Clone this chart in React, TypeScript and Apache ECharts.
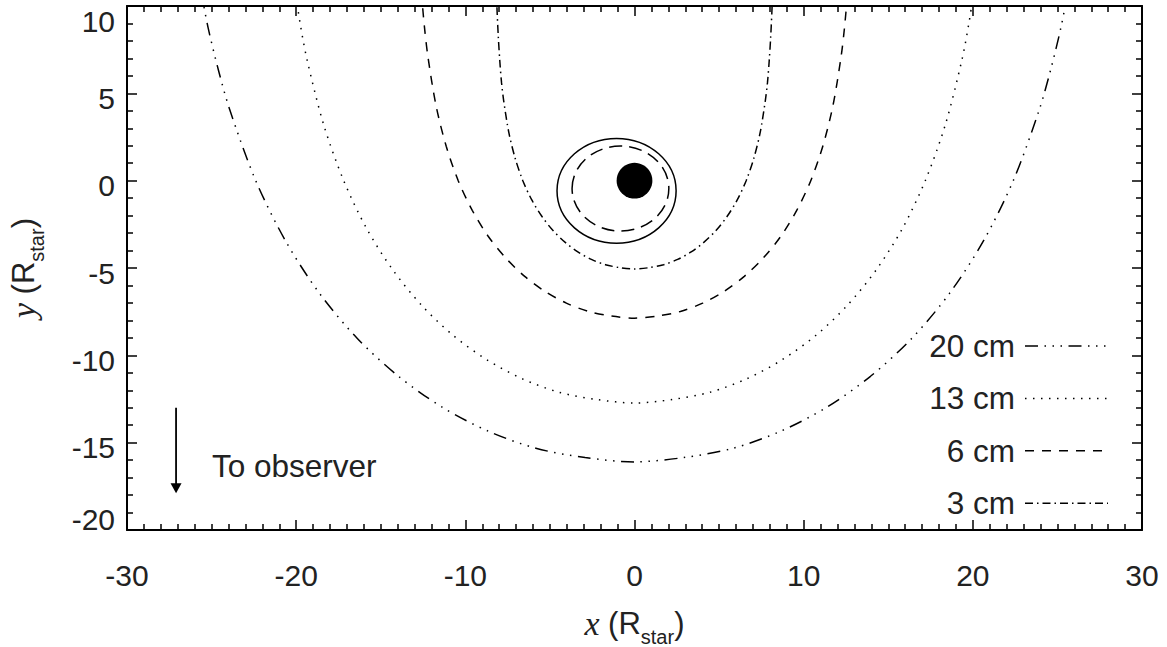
import React, { useEffect, useRef } from "react";
import * as echarts from "echarts";

const SANS = "'Liberation Sans', Arial, Helvetica, sans-serif";
const SERIF = "'Liberation Serif', 'Times New Roman', serif";
const INK = "#000";
const TEXT = "#222";

// axis ranges and tick steps
const xRange = [-30, 30];
const yRange = [-20, 10];
const xTickStep = 10;
const yTickStep = 5;

// tau = 1 surfaces (x, y in R_star)
const curve20cm: number[][] = [
  [-25.75, 11.49], [-25.21, 8.78], [-24.59, 6.31], [-23.92, 4.04], [-22.39, 0], [-20.61, -3.48],
  [-18.6, -6.48], [-16.37, -9.05], [-13.95, -11.2], [-11.37, -12.97], [-8.65, -14.34],
  [-5.83, -15.32], [-2.92, -15.85], [0, -16.1], [2.92, -15.85], [5.83, -15.32], [8.65, -14.34],
  [11.37, -12.97], [13.95, -11.2], [16.37, -9.05], [18.6, -6.48], [20.61, -3.48], [22.39, 0],
  [23.92, 4.04], [24.59, 6.31], [25.21, 8.78], [25.75, 11.49],
];
const curve13cm: number[][] = [
  [-20.15, 11.46], [-19.78, 9.09], [-19.36, 6.94], [-18.37, 3.19], [-17.19, 0], [-15.83, -2.75],
  [-14.28, -5.12], [-12.57, -7.15], [-10.72, -8.86], [-8.73, -10.25], [-6.64, -11.34],
  [-4.47, -12.11], [-2.24, -12.53], [0, -12.73], [2.24, -12.53], [4.47, -12.11], [6.64, -11.34],
  [8.73, -10.25], [10.72, -8.86], [12.57, -7.15], [14.28, -5.12], [15.83, -2.75], [17.19, 0],
  [18.37, 3.19], [19.36, 6.94], [19.78, 9.09], [20.15, 11.46],
];
const curve6cm: number[][] = [
  [-12.72, 12.78], [-12.58, 10.61], [-12.41, 8.73], [-12.21, 7.09], [-11.73, 4.29], [-11.13, 1.97],
  [-10.42, 0], [-9.59, -1.7], [-8.66, -3.17], [-7.62, -4.42], [-6.49, -5.48], [-5.29, -6.34],
  [-4.03, -7.01], [-2.71, -7.49], [-1.36, -7.75], [0, -7.87], [1.36, -7.75], [2.71, -7.49],
  [4.03, -7.01], [5.29, -6.34], [6.49, -5.48], [7.62, -4.42], [8.66, -3.17], [9.59, -1.7],
  [10.42, 0], [11.13, 1.97], [11.73, 4.29], [12.21, 7.09], [12.41, 8.73], [12.58, 10.61], [12.72, 12.78],
];
const curve3cm: number[][] = [
  [-8.19, 11.93], [-8.13, 9.89], [-8.05, 8.22], [-7.96, 6.82], [-7.86, 5.61], [-7.73, 4.56],
  [-7.43, 2.76], [-7.05, 1.27], [-6.6, 0], [-6.08, -1.09], [-5.48, -2.04], [-4.83, -2.84],
  [-4.11, -3.52], [-3.35, -4.08], [-2.55, -4.51], [-1.72, -4.81], [-0.86, -4.98], [0, -5.06],
  [0.86, -4.98], [1.72, -4.81], [2.55, -4.51], [3.35, -4.08], [4.11, -3.52], [4.83, -2.84],
  [5.48, -2.04], [6.08, -1.09], [6.6, 0], [7.05, 1.27], [7.43, 2.76], [7.73, 4.56], [7.86, 5.61],
  [7.96, 6.82], [8.05, 8.22], [8.13, 9.89], [8.19, 11.93],
];

const curveNames = ["20 cm", "13 cm", "6 cm", "3 cm"];
const curveData = [curve20cm, curve13cm, curve6cm, curve3cm];
const curveDashes: number[][] = [
  [13, 6.5, 1.5, 6.5, 1.5, 6.5, 1.5, 6.5],
  [1.5, 6.5],
  [9, 8],
  [8, 4, 1.5, 4],
];

// shells and star: [cx, cy, rx, ry] in R_star
const outerShell = [[-1.06, -0.58, 3.52, 3.0]];
const innerShell = [[-0.83, -0.45, 2.86, 2.43]];
const starDisk = [[0, 0, 1.04]];
// arrow: [x, yStart, yEnd]
const observerArrow = [[-27.1, -13.0, -17.9]];
const observerLabel = "To observer";

export default function App() {
  const ref = useRef<HTMLDivElement>(null);
  useEffect(() => {
    if (!ref.current) return;
    const chart = echarts.init(ref.current, undefined, { renderer: "svg" });

    const tickLine = { color: INK, width: 1.5 };
    const axisLine = { show: true, onZero: false, lineStyle: { color: INK, width: 2 } };

    const xBase = {
      type: "value",
      min: xRange[0],
      max: xRange[1],
      interval: xTickStep,
      axisLine,
      axisTick: { show: true, inside: true, length: 10, lineStyle: tickLine },
      minorTick: { show: true, splitNumber: 10, length: 6, lineStyle: tickLine },
      splitLine: { show: false },
      minorSplitLine: { show: false },
    };
    const yBase = {
      type: "value",
      min: yRange[0],
      max: yRange[1],
      interval: yTickStep,
      axisLine,
      axisTick: { show: true, inside: true, length: 10, lineStyle: tickLine },
      minorTick: { show: true, splitNumber: 5, length: 6, lineStyle: tickLine },
      splitLine: { show: false },
      minorSplitLine: { show: false },
    };

    const lab = { fontSize: 30, fontFamily: SANS, color: TEXT };
    const titleRich = {
      i: { fontFamily: SERIF, fontStyle: "italic", fontSize: 34, lineHeight: 48, color: TEXT },
      r: { fontFamily: SANS, fontSize: 31, lineHeight: 48, color: TEXT },
      s: { fontFamily: SANS, fontSize: 20, lineHeight: 20, verticalAlign: "bottom", color: TEXT },
    };

    const legendRight = 1015;
    const lineX1 = 1025;
    const lineX2 = 1108;
    const rowY0 = 346;
    const rowGap = 52.4;
    const legendEls: any[] = [];
    curveNames.forEach((n, i) => {
      const y = rowY0 + i * rowGap;
      legendEls.push({
        type: "text",
        x: legendRight,
        y,
        style: {
          text: n, fontSize: 31.5, fontFamily: SANS, fill: TEXT,
          align: "right", verticalAlign: "middle", textAlign: "right", textVerticalAlign: "middle",
        },
      });
      legendEls.push({
        type: "line",
        shape: { x1: lineX1, y1: y, x2: lineX2, y2: y },
        style: { stroke: INK, lineWidth: 1.5, lineDash: curveDashes[i] },
      });
    });
    legendEls.push({
      type: "text",
      x: 212,
      y: 466,
      style: {
        text: observerLabel, fontSize: 31.5, fontFamily: SANS, fill: TEXT,
        align: "left", verticalAlign: "middle", textAlign: "left", textVerticalAlign: "middle",
      },
    });

    const option: any = {
      animation: false,
      grid: { left: 127, right: 25, top: 6, bottom: 117, containLabel: false, outerBoundsMode: "none" },
      xAxis: [
        {
          ...xBase,
          position: "bottom",
          axisLabel: { ...lab, margin: 30 },
          name: "{i|x }{r|(R}{s|star}{r|)}",
          nameLocation: "middle",
          nameGap: 69,
          nameTextStyle: { rich: titleRich },
        },
        { ...xBase, position: "top", axisLabel: { show: false } },
      ],
      yAxis: [
        {
          ...yBase,
          position: "left",
          axisLabel: {
            ...lab,
            margin: 12,
            formatter: (v: number) =>
              v === yRange[1] ? `{top|${v}}` : v === yRange[0] ? `{bot|${v}}` : `{n|${v}}`,
            rich: {
              n: { ...lab, padding: [10, 0, 0, 0] },
              top: { ...lab, padding: [30, 0, 0, 0] },
              bot: { ...lab, padding: [0, 0, 22, 0] },
            },
          },
          name: "{i|y }{r|(R}{s|star}{r|)}",
          nameLocation: "middle",
          nameRotate: 90,
          nameGap: 80,
          nameTextStyle: { rich: titleRich },
        },
        { ...yBase, position: "right", axisLabel: { show: false } },
      ],
      series: [
        ...curveNames.map((n, i) => ({
          name: n,
          type: "line",
          xAxisIndex: 0,
          yAxisIndex: 0,
          data: curveData[i],
          showSymbol: false,
          symbol: "none",
          smooth: 0.3,
          clip: true,
          silent: true,
          lineStyle: { color: INK, width: 1.5, type: curveDashes[i] },
        })),
        {
          type: "custom",
          coordinateSystem: "cartesian2d",
          silent: true,
          data: outerShell,
          renderItem: (_p: any, api: any) => {
            const c = api.coord([api.value(0), api.value(1)]);
            const s = api.size([api.value(2), api.value(3)]);
            return {
              type: "ellipse",
              shape: { cx: c[0], cy: c[1], rx: s[0], ry: s[1] },
              style: { fill: "none", stroke: INK, lineWidth: 1.5 },
            };
          },
        },
        {
          type: "custom",
          coordinateSystem: "cartesian2d",
          silent: true,
          data: innerShell,
          renderItem: (_p: any, api: any) => {
            const c = api.coord([api.value(0), api.value(1)]);
            const s = api.size([api.value(2), api.value(3)]);
            return {
              type: "ellipse",
              shape: { cx: c[0], cy: c[1], rx: s[0], ry: s[1] },
              style: { fill: "none", stroke: INK, lineWidth: 1.5, lineDash: [13, 7] },
            };
          },
        },
        {
          type: "custom",
          coordinateSystem: "cartesian2d",
          silent: true,
          data: starDisk,
          renderItem: (_p: any, api: any) => {
            const c = api.coord([api.value(0), api.value(1)]);
            const s = api.size([api.value(2), api.value(2)]);
            return {
              type: "circle",
              shape: { cx: c[0], cy: c[1], r: (s[0] + s[1]) / 2 },
              style: { fill: INK, stroke: "none" },
            };
          },
        },
        {
          type: "custom",
          coordinateSystem: "cartesian2d",
          silent: true,
          data: observerArrow,
          renderItem: (_p: any, api: any) => {
            const top = api.coord([api.value(0), api.value(1)]);
            const tip = api.coord([api.value(0), api.value(2)]);
            const headH = 10;
            const headW = 5.5;
            return {
              type: "group",
              children: [
                {
                  type: "line",
                  shape: { x1: top[0], y1: top[1], x2: tip[0], y2: tip[1] - headH + 1 },
                  style: { stroke: INK, lineWidth: 1.8 },
                },
                {
                  type: "polygon",
                  shape: {
                    points: [
                      [tip[0] - headW, tip[1] - headH],
                      [tip[0] + headW, tip[1] - headH],
                      [tip[0], tip[1]],
                    ],
                  },
                  style: { fill: INK },
                },
              ],
            };
          },
        },
      ],
      graphic: { elements: legendEls },
    };

    chart.setOption(option);
    return () => chart.dispose();
  }, []);

  return (
    <div
      ref={ref}
      style={{ position: "fixed", left: 0, top: 0, width: 1167, height: 647, background: "#fff" }}
    />
  );
}
